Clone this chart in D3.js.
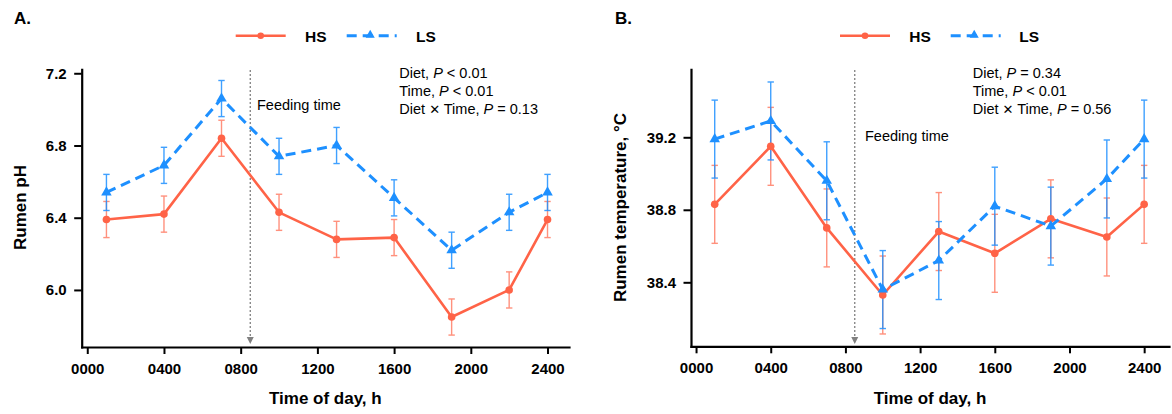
<!DOCTYPE html>
<html>
<head>
<meta charset="utf-8">
<script src="https://cdn.jsdelivr.net/npm/d3@7"></script>
<style>
  html, body { margin: 0; padding: 0; background: #fff; }
  svg { display: block; font-family: "Liberation Sans", Arial, Helvetica, sans-serif; }
</style>
</head>
<body>
<svg id="chart" width="1172" height="414"></svg>
<script>
// ---------------- data ----------------
const xTickValues = [0, 400, 800, 1200, 1600, 2000, 2400];
const xTickLabels = ["0000", "0400", "0800", "1200", "1600", "2000", "2400"];
const sampleTimes = [100, 400, 700, 1000, 1300, 1600, 1900, 2200, 2400];
const feedingTime = 850;

const phTicks = [6.0, 6.4, 6.8, 7.2];
const phHS   = [6.39, 6.42, 6.84, 6.43, 6.28, 6.29, 5.85, 6.00, 6.39];
const phHSse = [0.10, 0.10, 0.10, 0.10, 0.10, 0.10, 0.10, 0.10, 0.10];
const phLS   = [6.54, 6.69, 7.06, 6.74, 6.80, 6.51, 6.22, 6.43, 6.54];
const phLSse = [0.10, 0.10, 0.10, 0.10, 0.10, 0.10, 0.10, 0.10, 0.10];

const tempTicks = [38.4, 38.8, 39.2];
const tempHS   = [38.83, 39.15, 38.70, 38.33, 38.68, 38.56, 38.75, 38.65, 38.83];
const tempHSse = [0.215, 0.215, 0.215, 0.215, 0.215, 0.215, 0.215, 0.215, 0.215];
const tempLS   = [39.19, 39.29, 38.96, 38.36, 38.52, 38.82, 38.71, 38.97, 39.19];
const tempLSse = [0.215, 0.215, 0.215, 0.215, 0.215, 0.215, 0.215, 0.215, 0.215];

const seriesNames = ["HS", "LS"];
const statsA = [["Diet, ", "P", " < 0.01"], ["Time, ", "P", " < 0.01"], ["Diet ", "✕", " Time, ", "P", " = 0.13"]];
const statsB = [["Diet, ", "P", " = 0.34"], ["Time, ", "P", " < 0.01"], ["Diet ", "✕", " Time, ", "P", " = 0.56"]];

// ---------------- style ----------------
const RED = "#FF6347";
const BLUE = "#1E90FF";
const svg = d3.select("#chart");

function drawPanel(o) {
  const x = d3.scaleLinear().domain(o.xDomain).range(o.xRange);
  const y = d3.scaleLinear().domain(o.yDomain).range(o.yRange);
  const g = svg.append("g");

  // axes
  const gx = g.append("g")
    .attr("transform", `translate(0,${o.yRange[0]})`)
    .call(d3.axisBottom(x).tickValues(xTickValues)
      .tickFormat((d, i) => xTickLabels[i]).tickSize(7).tickPadding(9.5).tickSizeOuter(0));
  const gy = g.append("g")
    .attr("transform", `translate(${o.xRange[0]},0)`)
    .call(d3.axisLeft(y).tickValues(o.yTicks)
      .tickFormat(d3.format(".1f")).tickSize(7.5).tickPadding(7.5).tickSizeOuter(0));
  [gx, gy].forEach(a => {
    a.select(".domain").attr("stroke", "#000").attr("stroke-width", 2.2).attr("stroke-linecap", "square");
    a.selectAll(".tick line").attr("stroke", "#000").attr("stroke-width", 2);
    a.selectAll(".tick text").attr("fill", "#000").style("font-size", "15px").style("font-weight", "bold")
      .style("font-family", '"Liberation Sans", Arial, Helvetica, sans-serif');
  });

  // axis titles
  g.append("text").attr("x", (o.xRange[0] + o.xRange[1]) / 2).attr("y", 403.5)
    .attr("text-anchor", "middle").style("font-size", "17px").style("font-weight", "bold")
    .text("Time of day, h");
  g.append("text")
    .attr("transform", `translate(${o.yTitleX},207.5) rotate(-90)`)
    .attr("text-anchor", "middle").attr("dy", "0.35em")
    .style("font-size", "17px").style("font-weight", "bold")
    .text(o.yTitle);

  // panel label
  g.append("text").attr("x", o.labelX).attr("y", 24)
    .style("font-size", "17px").style("font-weight", "bold").text(o.label);

  // feeding time marker
  const fx = x(feedingTime);
  g.append("line").attr("x1", fx).attr("x2", fx).attr("y1", 70).attr("y2", 337)
    .attr("stroke", "#808080").attr("stroke-width", 1.3).attr("stroke-dasharray", "2,2");
  g.append("path").attr("d", `M${fx - 3.5},337 L${fx + 3.5},337 L${fx},344 Z`).attr("fill", "#808080");
  g.append("text").attr("x", o.feedX).attr("y", o.feedY).style("font-size", "14.5px").text("Feeding time");

  // stats text, one text element per line
  o.stats.forEach((parts, i) => {
    const st = g.append("text").attr("x", o.statsX).attr("y", 78.3 + i * 17.7).style("font-size", "14.5px");
    parts.forEach(p => {
      const ts = st.append("tspan").text(p);
      if (p === "P") ts.style("font-style", "italic");
      if (p === "✕") ts.style("font-family", '"DejaVu Sans", sans-serif').style("font-size", "13px");
    });
  });

  const series = [
    { name: "HS", vals: o.hs, se: o.hsSe, color: RED, dash: null, errOpacity: 0.7, marker: "circle" },
    { name: "LS", vals: o.ls, se: o.lsSe, color: BLUE, dash: "10,6", errOpacity: 0.85, marker: "triangle" }
  ];

  // error bars
  series.forEach(s => {
    const eg = g.append("g").attr("stroke", s.color).attr("stroke-width", 1.4).attr("opacity", s.errOpacity);
    sampleTimes.forEach((t, i) => {
      const cx = x(t), y1 = y(s.vals[i] - s.se[i]), y2 = y(s.vals[i] + s.se[i]);
      eg.append("line").attr("x1", cx).attr("x2", cx).attr("y1", y1).attr("y2", y2);
      eg.append("line").attr("x1", cx - 3.2).attr("x2", cx + 3.2).attr("y1", y1).attr("y2", y1);
      eg.append("line").attr("x1", cx - 3.2).attr("x2", cx + 3.2).attr("y1", y2).attr("y2", y2);
    });
  });

  // lines
  series.forEach(s => {
    const line = d3.line().x((d, i) => x(sampleTimes[i])).y(d => y(d));
    g.append("path").datum(s.vals).attr("d", line).attr("fill", "none")
      .attr("stroke", s.color).attr("stroke-width", s.dash ? 3 : 2.6)
      .attr("stroke-dasharray", s.dash).attr("stroke-linejoin", "round");
  });

  // markers
  series.forEach(s => {
    sampleTimes.forEach((t, i) => {
      if (s.marker === "circle") {
        g.append("circle").attr("cx", x(t)).attr("cy", y(s.vals[i])).attr("r", 3.8).attr("fill", s.color);
      } else {
        g.append("path").attr("d", d3.symbol(d3.symbolTriangle, 48)())
          .attr("transform", `translate(${x(t)},${y(s.vals[i])})`).attr("fill", s.color);
      }
    });
  });

  // legend
  const lg = g.append("g");
  lg.append("line").attr("x1", o.legRed[0]).attr("x2", o.legRed[0] + 50).attr("y1", 35.7).attr("y2", 35.7)
    .attr("stroke", RED).attr("stroke-width", 2.6);
  lg.append("circle").attr("cx", o.legRed[0] + 25).attr("cy", 35.7).attr("r", 3.3).attr("fill", RED);
  lg.append("text").attr("x", o.legRed[1]).attr("y", 41.5).style("font-size", "15.5px").style("font-weight", "bold").text(seriesNames[0]);
  lg.append("line").attr("x1", o.legBlue[0]).attr("x2", o.legBlue[0] + 50).attr("y1", 35.7).attr("y2", 35.7)
    .attr("stroke", BLUE).attr("stroke-width", 3).attr("stroke-dasharray", "10,6");
  lg.append("path").attr("d", d3.symbol(d3.symbolTriangle, 36)())
    .attr("transform", `translate(${o.legBlue[0] + 23.5},35)`).attr("fill", BLUE);
  lg.append("text").attr("x", o.legBlue[1]).attr("y", 41.5).style("font-size", "15.5px").style("font-weight", "bold").text(seriesNames[1]);
}

drawPanel({
  label: "A.", labelX: 14,
  xDomain: [-29, 2512], xRange: [81.7, 569],
  yDomain: [5.684, 7.222], yRange: [347, 69.3], yTicks: phTicks,
  yTitle: "Rumen pH", yTitleX: 20,
  hs: phHS, hsSe: phHSse, ls: phLS, lsSe: phLSse,
  feedX: 257, feedY: 110,
  stats: statsA, statsX: 399.3,
  legRed: [235.7, 305], legBlue: [346.7, 416]
});

drawPanel({
  label: "B.", labelX: 615,
  xDomain: [-27, 2533], xRange: [691, 1169],
  yDomain: [38.047, 39.575], yRange: [346.3, 69.3], yTicks: tempTicks,
  yTitle: "Rumen temperature, °C", yTitleX: 620.5,
  hs: tempHS, hsSe: tempHSse, ls: tempLS, lsSe: tempLSse,
  feedX: 865, feedY: 140.5,
  stats: statsB, statsX: 972.7,
  legRed: [840, 909.3], legBlue: [950.7, 1019.3]
});
</script>
</body>
</html>
